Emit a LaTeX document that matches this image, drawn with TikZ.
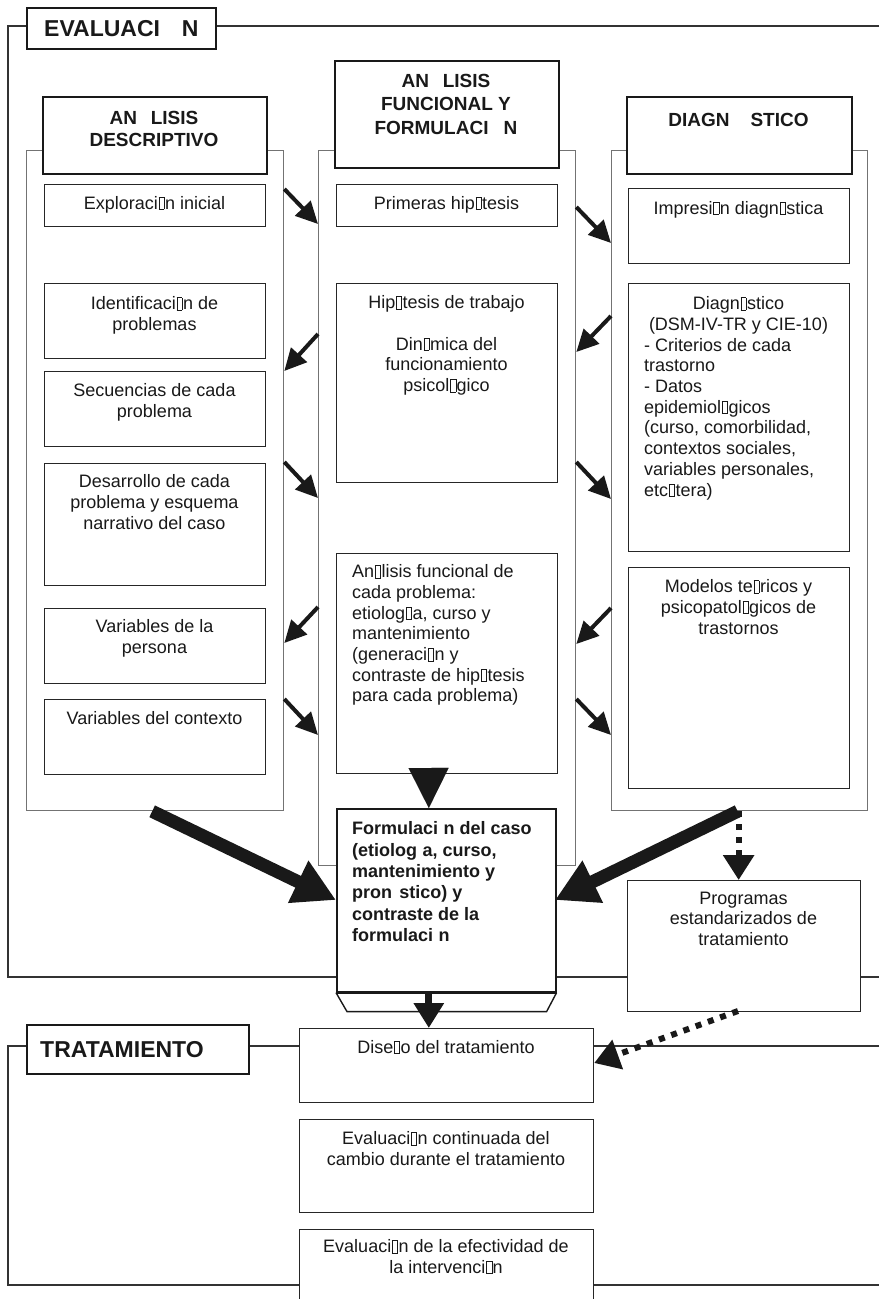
\documentclass[tikz,border=0pt]{standalone}
\usepackage{fontspec}
\setmainfont{Liberation Sans}
\usetikzlibrary{arrows.meta}
\newcommand\bx{\kern0.04em{\fboxsep=0pt\fboxrule=0.45pt\fbox{\rule{0pt}{0.66em}\hspace{0.28em}}}\kern0.04em}
\newcommand\gp[1]{\hspace*{#1}}
\newcommand\bnode[6]{\node[#6, minimum width={#4-#2}, minimum height={#5-#3}, anchor=north west] (#1) at (#2,#3) {};}
\begin{document}
\begin{tikzpicture}[x=1pt,y=-1pt,
  hdr/.style={draw=black!90, line width=1.8pt, fill=white, inner sep=0pt},
  ibox/.style={draw=black!85, line width=1.2pt, fill=white, inner sep=0pt},
  colst/.style={draw=black!55, line width=1.3pt, fill=white, inner sep=0pt},
  formst/.style={draw=black!90, line width=1.6pt, fill=white, inner sep=0pt},
  frm/.style={draw=black!80, line width=1.3pt},
  txt/.style={inner sep=0pt, align=center, font=\fontsize{18}{20.7}\selectfont, text=black!90, execute at begin node=\strut},
  txtl/.style={txt, align=left},
  htxt/.style={inner sep=0pt, align=center, font=\bfseries\fontsize{19}{22}\selectfont, text=black!90, execute at begin node=\strut},
  bigtxt/.style={inner sep=0pt, font=\bfseries\fontsize{23}{27}\selectfont, text=black!90},
  ftxt/.style={inner sep=0pt, align=left, font=\bfseries\fontsize{18}{21.4}\selectfont, text=black!90, execute at begin node=\strut},
  sarr/.style={draw=black!90, line width=4pt, -{Triangle[length=22pt,width=21pt]}},
  barr/.style={draw=black!90, line width=13pt, -{Triangle[length=42pt,width=44pt]}},
  darr/.style={draw=black!90, line width=6pt, dash pattern=on 6pt off 7pt, -{Triangle[length=25pt,width=30pt]}},
  tarr/.style={draw=black!90, line width=7pt, -{Triangle[length=25pt,width=29pt]}},
  triarr/.style={draw=black!90, line width=0.01pt, -{Triangle[length=40pt,width=40pt]}}
]
\useasboundingbox (0,0) rectangle (879,1299);
\fill[white] (0,0) rectangle (879,1299);

% outer frames
\draw[frm] (879,26) -- (8,26) -- (8,977) -- (879,977);
\draw[frm] (879,1046) -- (8,1046) -- (8,1285) -- (879,1285);

% column frames
\bnode{c1}{26}{150}{283}{810}{colst}
\bnode{c2}{318}{150}{575}{865}{colst}
\bnode{c3}{611}{150}{867}{810}{colst}

% headers
\bnode{eh}{26}{7}{215}{48}{hdr}
\node[bigtxt] (eht) at (eh.center) {EVALUACI\gp{0.95em}N};
\bnode{th}{26}{1024}{248}{1073}{hdr}
\node[bigtxt, anchor=west] (tht) at ([xshift=14pt]th.west) {TRATAMIENTO};
\bnode{h1}{42}{96}{266}{173}{hdr}
\node[htxt, anchor=north] (h1t) at (154,111.5) {AN\gp{0.72em}LISIS\\DESCRIPTIVO};
\bnode{h2}{334}{60}{558}{167}{hdr}
\node[htxt, anchor=north, font=\bfseries\fontsize{19}{23.5}\selectfont] (h2t) at (446,74) {AN\gp{0.72em}LISIS\\FUNCIONAL Y\\FORMULACI\gp{0.8em}N};
\bnode{h3}{626}{96}{851}{173}{hdr}
\node[htxt, anchor=north] (h3t) at (738.5,110.5) {DIAGN\gp{1.1em}STICO};

% column 1 boxes
\bnode{b11}{44}{184}{265}{226}{ibox}
\node[txt, anchor=north] (b11t) at (154.5,194.5) {Exploraci\bx n inicial};
\bnode{b12}{44}{283}{265}{358}{ibox}
\node[txt, anchor=north] (b12t) at (154.5,296.5) {Identificaci\bx n de\\problemas};
\bnode{b13}{44}{371}{265}{446}{ibox}
\node[txt, anchor=north] (b13t) at (154.5,383.5) {Secuencias de cada\\problema};
\bnode{b14}{44}{463}{265}{585}{ibox}
\node[txt, anchor=north] (b14t) at (154.5,474.5) {Desarrollo de cada\\problema y esquema\\narrativo del caso};
\bnode{b15}{44}{608}{265}{683}{ibox}
\node[txt, anchor=north] (b15t) at (154.5,619.5) {Variables de la\\persona};
\bnode{b16}{44}{699}{265}{774}{ibox}
\node[txt, anchor=north] (b16t) at (154.5,709.5) {Variables del contexto};

% column 2 boxes
\bnode{b21}{336}{184}{557}{226}{ibox}
\node[txt, anchor=north] (b21t) at (446.5,194.5) {Primeras hip\bx tesis};
\bnode{b22}{336}{283}{557}{482}{ibox}
\node[txt, anchor=north] (b22t) at (446.5,295.5) {Hip\bx tesis de trabajo\\[20.7pt]Din\bx mica del\\funcionamiento\\psicol\bx gico};
\bnode{b23}{336}{553}{557}{773}{ibox}
\node[txtl, anchor=north west] (b23t) at (352,564.5) {An\bx lisis funcional de\\cada problema:\\etiolog\bx a, curso y\\mantenimiento\\(generaci\bx n y\\contraste de hip\bx tesis\\para cada problema)};

% column 3 boxes
\bnode{b31}{628}{188}{849}{263}{ibox}
\node[txt, anchor=north] (b31t) at (738.5,199.5) {Impresi\bx n diagn\bx stica};
\bnode{b32}{628}{283}{849}{551}{ibox}
\node[txt, anchor=north] (b32t) at (738.5,296.5) {Diagn\bx stico\\(DSM-IV-TR y CIE-10)};
\node[txtl, anchor=north west] (b32u) at (644,337.9) {- Criterios de cada\\trastorno\\- Datos\\epidemiol\bx gicos\\(curso, comorbilidad,\\contextos sociales,\\variables personales,\\etc\bx tera)};
\bnode{b33}{628}{567}{849}{788}{ibox}
\node[txt, anchor=north] (b33t) at (738.5,579.5) {Modelos te\bx ricos y\\psicopatol\bx gicos de\\trastornos};

% small arrows between columns
\draw[sarr] (c1.east |- 0,189) -- (c2.west |- 0,224);
\draw[sarr] (c2.west |- 0,334) -- (c1.east |- 0,371);
\draw[sarr] (c1.east |- 0,462) -- (c2.west |- 0,498);
\draw[sarr] (c2.west |- 0,607) -- (c1.east |- 0,643);
\draw[sarr] (c1.east |- 0,699) -- (c2.west |- 0,735);
\draw[sarr] (c2.east |- 0,207) -- (c3.west |- 0,243);
\draw[sarr] (c3.west |- 0,316) -- (c2.east |- 0,352);
\draw[sarr] (c2.east |- 0,462) -- (c3.west |- 0,499);
\draw[sarr] (c3.west |- 0,608) -- (c2.east |- 0,644);
\draw[sarr] (c2.east |- 0,699) -- (c3.west |- 0,735);

% formulation box and the arrows into it
\coordinate (fl) at (336,900);
\coordinate (fr) at (555,900);
\draw[barr] ([xshift=-3pt]c1.south) -- (fl);
\draw[barr] ([xshift=-2pt]c3.south) -- (fr);
\bnode{form}{336}{808}{555}{991}{formst}
\node[ftxt, anchor=north west] (formt) at (352,821.5) {Formulaci\gp{0.3em}n del caso\\(etiolog\gp{0.3em}a, curso,\\mantenimiento y\\pron\gp{0.4em}stico) y\\contraste de la\\formulaci\gp{0.3em}n};
\draw[line width=2.8pt, draw=black!90] (form.south west) -- (form.south east);
\draw[line width=1.4pt, draw=black!90] (form.south west) -- ++(11,19) -- ([xshift=-10pt,yshift=-19pt]form.south east) -- (form.south east);
\draw[triarr] ([xshift=-18.5pt,yshift=6pt]b23.south) -- ([xshift=-17.5pt]form.north);

% programas
\bnode{prog}{627}{880}{860}{1011}{ibox}
\node[txt, anchor=north] (progt) at (743.5,891.5) {Programas\\estandarizados de\\tratamiento};
\draw[darr] ([xshift=-1pt]c3.south) -- ([xshift=-1pt]c3.south |- prog.north);

% treatment boxes
\bnode{dis}{299}{1028}{593}{1102}{ibox}
\node[txt, anchor=north] (dist) at (446,1038.5) {Dise\bx o del tratamiento};
\bnode{evc}{299}{1119}{593}{1212}{ibox}
\node[txt, anchor=north] (evct) at (446,1131.5) {Evaluaci\bx n continuada del\\cambio durante el tratamiento};
\bnode{eve}{299}{1229}{593}{1305}{ibox}
\node[txt, anchor=north] (evet) at (446,1239.5) {Evaluaci\bx n de la efectividad de\\la intervenci\bx n};

\draw[tarr] ([xshift=-17.5pt]form.south) -- ([xshift=-17.5pt]form.south |- dis.north);
\draw[darr] (738,1011) -- (dis.east |- 0,1063);
\end{tikzpicture}
\end{document}
